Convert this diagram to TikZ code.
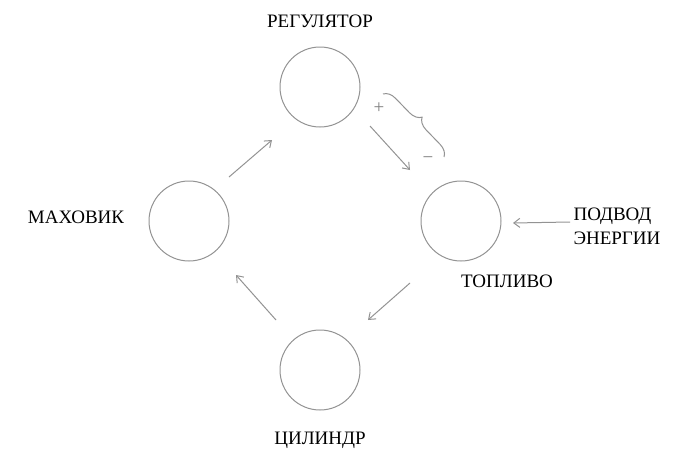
\documentclass[tikz,border=0pt]{standalone}
\usepackage{fontspec}
\setmainfont{Liberation Serif}
\usetikzlibrary{decorations.pathreplacing,arrows.meta}
\begin{document}
\begin{tikzpicture}[x=1pt,y=-1pt,
  ring/.style={circle,draw=gray!85,line width=1pt,minimum size=80pt,inner sep=0pt},
  lbl/.style={font=\fontsize{19}{24}\selectfont},
  arr/.style={draw=gray!85,line width=1pt,-{Straight Barb[length=6pt,width=9pt]}}]
\useasboundingbox (0,0) rectangle (691,458);
\node[ring] (reg) at (320,87) {};
\node[ring] (fly) at (189,221) {};
\node[ring] (fuel) at (461,221) {};
\node[ring] (cyl) at (320,370) {};
\node[lbl] (treg) at (320,21) {РЕГУЛЯТОР};
\node[lbl] (tfly) at (76,217) {МАХОВИК};
\node[lbl] (tfuel) at (507,281) {ТОПЛИВО};
\node[lbl,align=left,anchor=west] (tin) at (570,226) {ПОДВОД\\ЭНЕРГИИ};
\node[lbl] (tcyl) at (320,440) {ЦИЛИНДР};
\coordinate (a1) at (229,177); \coordinate (b1) at (272,140);
\coordinate (a2) at (370,126); \coordinate (b2) at (410,170);
\coordinate (a3) at (410,283); \coordinate (b3) at (368,320);
\coordinate (a4) at (276,320); \coordinate (b4) at (236,275);
\coordinate (a5) at (570,222); \coordinate (b5) at (513,223);
\draw[arr] (a1) -- (b1);
\draw[arr] (a2) -- (b2);
\draw[arr] (a3) -- (b3);
\draw[arr] (a4) -- (b4);
\draw[arr] (a5) -- (b5);
\node[lbl,text=gray] (plus) at (379,108) {+};
\node[lbl,text=gray] (minus) at (428,160) {−};
\coordinate (br1) at (383,94); \coordinate (br2) at (444,157);
\draw[gray!85,line width=1pt,decorate,decoration={brace,amplitude=12pt}] (br1) -- (br2);
\end{tikzpicture}
\end{document}
